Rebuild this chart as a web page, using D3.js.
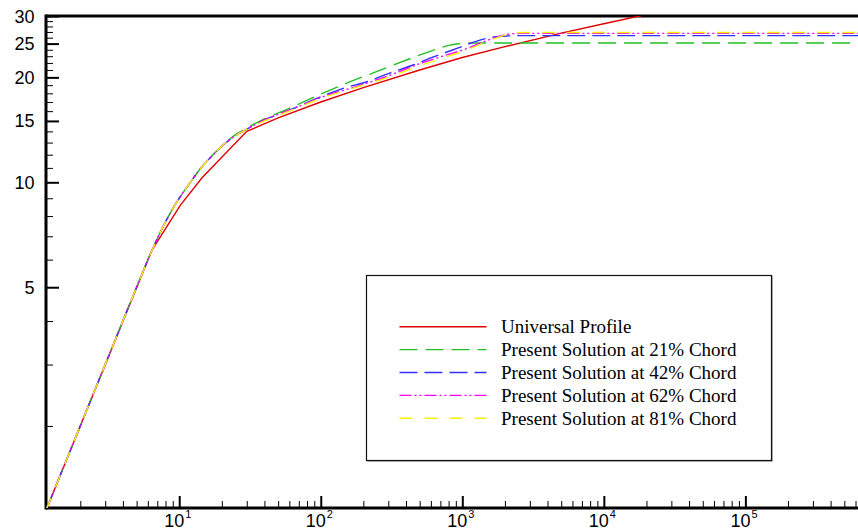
<!DOCTYPE html>
<html><head><meta charset="utf-8">
<script src="https://cdn.jsdelivr.net/npm/d3@7"></script>
<style>body{margin:0;background:#fff}svg{display:block}</style>
</head><body><svg id="c" width="858" height="532"></svg>
<script>
// ---- data (y+ , u+) ----
const seriesNames = ["Universal Profile","Present Solution at 21% Chord","Present Solution at 42% Chord","Present Solution at 62% Chord","Present Solution at 81% Chord"];
const universalY = [1.145, 6.4, 10.2, 14.5, 30, 50, 100, 200, 500, 1000, 2000, 5000, 10000, 20000];
const universalU = [1.145, 6.38, 8.6, 10.3, 14.0, 15.3, 17.0, 18.7, 21.0, 22.8, 24.5, 26.8, 28.5, 30.3];
const chord21Y = [1.145, 2, 3, 5, 6.5, 8, 10, 12, 14, 17, 20, 25, 30, 40, 60, 100, 150, 250, 400, 600, 800, 1000, 1300, 700000];
const chord21U = [1.145, 2, 3, 5, 6.45, 7.7, 9.0, 10.0, 10.9, 11.9, 12.7, 13.7, 14.3, 15.2, 16.3, 17.9, 19.2, 20.8, 22.4, 23.8, 24.7, 25.05, 25.1, 25.1];
const chord42Y = [1.145, 2, 3, 5, 6.5, 8, 10, 12, 14, 17, 20, 25, 30, 40, 60, 100, 150, 210, 310, 450, 625, 865, 1300, 1650, 2100, 2600, 700000];
const chord42U = [1.145, 2, 3, 5, 6.45, 7.7, 9.0, 10.0, 10.9, 11.9, 12.7, 13.6, 14.2, 15.1, 16.1, 17.6, 18.7, 19.4, 20.6, 21.7, 22.9, 24.0, 25.5, 26.1, 26.3, 26.35, 26.35];
const chord62Y = [1.145, 2, 3, 5, 6.5, 8, 10, 12, 14, 17, 20, 25, 30, 40, 60, 100, 200, 310, 500, 700, 1080, 1450, 2100, 2600, 700000];
const chord62U = [1.145, 2, 3, 5, 6.45, 7.7, 9.0, 10.0, 10.9, 11.9, 12.7, 13.6, 14.2, 15.1, 16.1, 17.5, 19.1, 20.3, 21.9, 22.9, 24.2, 25.4, 26.6, 26.75, 26.75];
const chord81Y = [1.145, 2, 3, 5, 6.5, 8, 10, 12, 14, 17, 20, 25, 30, 40, 60, 100, 200, 310, 500, 700, 1080, 1450, 2200, 2700, 700000];
const chord81U = [1.145, 2, 3, 5, 6.45, 7.7, 9.0, 10.0, 10.9, 11.9, 12.7, 13.6, 14.2, 15.0, 16.0, 17.4, 19.0, 20.1, 21.6, 22.6, 24.0, 25.2, 26.7, 26.9, 26.9];
const xMajorTicks = [10, 100, 1000, 10000, 100000];
const xTickExponents = ["1", "2", "3", "4", "5"];
const yMajorTicks = [5, 10, 15, 20, 25, 30];
const yTickLabels = ["5", "10", "15", "20", "25", "30"];

// ---- layout ----
const svg = d3.select("#c");
const L = 46, R = 865, T = 16, B = 508;
const x = d3.scaleLog().domain([1.145, 700000]).range([L, R]);
const y = d3.scaleLog().domain([1.163, 30]).range([B, T]);

svg.append("defs").append("clipPath").attr("id", "clip")
  .append("rect").attr("x", L).attr("y", T).attr("width", 858 - L).attr("height", B - T);

// minor ticks
const xMinor = [];
for (let e = 0; e <= 5; e++) for (let m = 2; m <= 9; m++) { const v = m * Math.pow(10, e); if (v > 1.145 && v < 700000) xMinor.push(v); }
const yMinor = [2, 3, 4, 6, 7, 8, 9, 11, 12, 13, 14, 16, 17, 18, 19, 21, 22, 23, 24, 26, 27, 28, 29];

const gx = svg.append("g").attr("transform", `translate(0,${B})`);
gx.append("g").call(d3.axisBottom(x).tickValues(xMinor).tickSize(-7).tickFormat(""))
  .call(g => g.select(".domain").remove()).selectAll("line").attr("stroke", "#000").attr("stroke-width", 1);
gx.append("g").call(d3.axisBottom(x).tickValues(xMajorTicks).tickSize(-12).tickFormat(""))
  .call(g => g.select(".domain").remove()).selectAll("line").attr("stroke", "#000").attr("stroke-width", 2);

const gy = svg.append("g").attr("transform", `translate(${L},0)`);
gy.append("g").call(d3.axisLeft(y).tickValues(yMinor).tickSize(-7).tickFormat(""))
  .call(g => g.select(".domain").remove()).selectAll("line").attr("stroke", "#000").attr("stroke-width", 1);
gy.append("g").call(d3.axisLeft(y).tickValues(yMajorTicks).tickSize(-13).tickFormat(""))
  .call(g => g.select(".domain").remove()).selectAll("line").attr("stroke", "#000").attr("stroke-width", 2);

// axis frame lines
svg.append("line").attr("x1", L).attr("x2", 858).attr("y1", B).attr("y2", B).attr("stroke", "#000").attr("stroke-width", 3);
svg.append("line").attr("x1", L).attr("x2", 858).attr("y1", T).attr("y2", T).attr("stroke", "#000").attr("stroke-width", 3);
svg.append("line").attr("x1", L).attr("x2", L).attr("y1", T - 1.5).attr("y2", B + 1.5).attr("stroke", "#000").attr("stroke-width", 3);

// tick labels
const fontSans = "'Liberation Sans', Arial, sans-serif";
xMajorTicks.forEach((v, i) => {
  const t = svg.append("text").attr("x", x(v) - 15).attr("y", 527)
    .attr("font-family", fontSans).attr("font-size", 18).attr("fill", "#000");
  t.append("tspan").text("10");
  t.append("tspan").attr("dy", -9).attr("dx", 1).attr("font-size", 11).text(xTickExponents[i]);
});
yMajorTicks.forEach((v, i) => {
  svg.append("text").attr("x", 34.5).attr("y", y(v) + 6.5).attr("text-anchor", "end")
    .attr("font-family", fontSans).attr("font-size", 18).attr("fill", "#000").text(yTickLabels[i]);
});

// curves
const styles = [
  {c: "#e00000", d: null, w: 1.4},
  {c: "#22c022", d: "18,8", w: 1.4},
  {c: "#3030ff", d: "18,7", w: 1.4},
  {c: "#ff00ff", d: "12,3,2,3,2,3", w: 1.4},
  {c: "#f4f400", d: "13,12", w: 1.4}
];
const sets = [[universalY, universalU], [chord21Y, chord21U], [chord42Y, chord42U], [chord62Y, chord62U], [chord81Y, chord81U]];
const lineLin = d3.line().x(d => x(d[0])).y(d => y(d[1]));
const lineSmooth = d3.line().x(d => x(d[0])).y(d => y(d[1])).curve(d3.curveMonotoneX);
const plot = svg.append("g").attr("clip-path", "url(#clip)");
[0, 1, 2, 3, 4].forEach(i => {
  const pts = sets[i][0].map((v, k) => [v, sets[i][1][k]]);
  plot.append("path").attr("d", (i === 0 ? lineLin : lineSmooth)(pts))
    .attr("fill", "none").attr("stroke", styles[i].c).attr("stroke-width", styles[i].w)
    .attr("stroke-dasharray", styles[i].d);
});

// legend
svg.append("rect").attr("x", 367.5).attr("y", 276.5).attr("width", 405).attr("height", 185).attr("fill", "none").attr("stroke", "#bbb").attr("stroke-width", 1);
svg.append("rect").attr("x", 366.5).attr("y", 275.5).attr("width", 405).attr("height", 185).attr("fill", "#fff").attr("stroke", "#111").attr("stroke-width", 1.2);
seriesNames.forEach((n, i) => {
  const yy = 326.7 + i * 22.9;
  svg.append("line").attr("x1", 399.5).attr("x2", 486.5).attr("y1", yy).attr("y2", yy)
    .attr("stroke", styles[i].c).attr("stroke-width", styles[i].w).attr("stroke-dasharray", styles[i].d);
  svg.append("text").attr("x", 501).attr("y", yy + 6.6)
    .attr("font-family", "'Liberation Serif', 'Times New Roman', serif").attr("font-size", 19).attr("fill", "#000").text(n);
});
</script></body></html>
